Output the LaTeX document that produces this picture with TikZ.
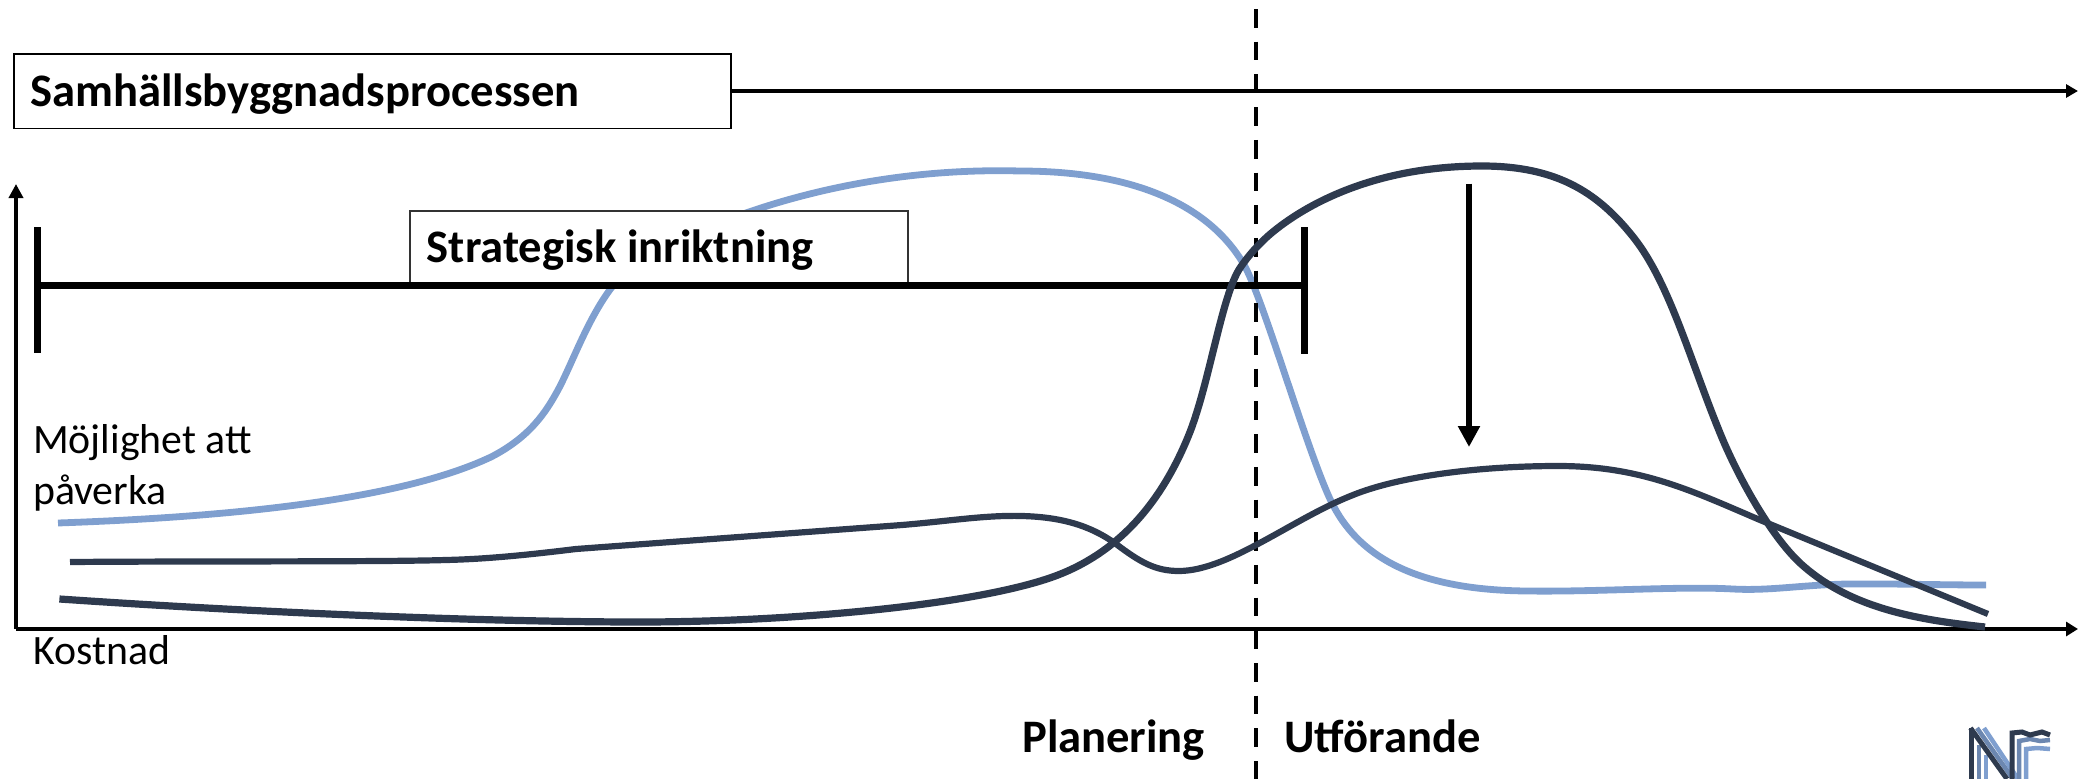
\documentclass[tikz,border=0pt]{standalone}
\usepackage{fontspec}
\setmainfont{Carlito}
\usetikzlibrary{arrows.meta}
\definecolor{softblue}{HTML}{7F9FCF}
\definecolor{deepnavy}{HTML}{2E3A4E}
\tikzset{
  x=1pt,y=-1pt,
  curveblue/.style={softblue,line width=6.8pt,line join=round},
  curvedark/.style={deepnavy,line width=7.2pt,line join=round},
  axisline/.style={black,line width=4.8pt},
  barline/.style={black,line width=7pt},
  titlebox/.style={draw=black,fill=white,line width=1.6pt,minimum width=717pt,minimum height=74.5pt,inner sep=0,anchor=north west},
  subbox/.style={draw=black!80,fill=white,line width=1.8pt,minimum width=498pt,minimum height=73pt,inner sep=0,anchor=north west},
  boldlabel/.style={font=\bfseries\fontsize{46.6}{46.6}\selectfont,anchor=base west,inner sep=0},
  plainlabel/.style={font=\fontsize{41.8}{41.8}\selectfont,anchor=base west,inner sep=0},
  logoA/.style={color=deepnavy,line width=5pt},
  logoB/.style={color=softblue!85!black,line width=4.5pt},
  logoC/.style={color=softblue,line width=4.5pt},
}
\begin{document}
\begin{tikzpicture}
\useasboundingbox (0,0) rectangle (2078,779);
% curve under the boxes
\draw[curveblue] (58,523) .. controls (230,517) and (400,500) .. (491,457)
 .. controls (530,437) and (546,412) .. (558,390)
 .. controls (572,364) and (588,318) .. (612,287)
 .. controls (632,255) and (800,165) .. (1020,171)
 .. controls (1125,171) and (1205,200) .. (1243,263)
 .. controls (1262,294) and (1305,445) .. (1330,499)
 .. controls (1352,546) and (1400,590) .. (1527,591)
 .. controls (1600,592) and (1680,586) .. (1733,589)
 .. controls (1770,591) and (1800,585) .. (1847,584)
 .. controls (1890,583.5) and (1940,585) .. (1986,585);
% boxes
\node[titlebox] (titlebox) at (13,53) {};
\node[subbox] (subbox) at (409,210) {};
% strategic bar
\coordinate (barL) at (37.6,285);
\coordinate (barR) at (1304,285);
\coordinate (barLt) at (37.6,227);
\coordinate (barLb) at (37.6,353);
\coordinate (barRt) at (1304,227);
\coordinate (barRb) at (1304,354);
\draw[barline] (barL) -- (barR);
\draw[barline] (barLt) -- (barLb);
\draw[barline] (barRt) -- (barRb);
% dashed divider
\coordinate (divT) at (1255.8,9);
\coordinate (divB) at (1255.8,779);
\draw[black,line width=4.4pt,dash pattern=on 18.7pt off 14pt] (divT) -- (divB);
% axes
\coordinate (origin) at (16,629);
\coordinate (yend) at (16,184);
\coordinate (xend) at (2078,629);
\coordinate (topend) at (2078,91);
\draw[axisline,-{Triangle[length=14pt,width=14pt]}] (origin) -- (yend);
\draw[axisline,-{Triangle[length=12pt,width=14pt]}] (origin) -- (xend);
\draw[axisline,-{Triangle[length=12pt,width=13pt]}] (titlebox.east |- topend) -- (topend);
% dark curves
\draw[curvedark] (59.4,599) .. controls (250,612) and (480,622) .. (640,622)
 .. controls (790,622) and (980,605) .. (1058,575)
 .. controls (1125,549) and (1165,495) .. (1190,432)
 .. controls (1210,380) and (1222,295) .. (1240,268)
 .. controls (1248,256) and (1258,245) .. (1268,236)
 .. controls (1300,208) and (1370,166) .. (1482,166)
 .. controls (1560,166) and (1600,195) .. (1634,238)
 .. controls (1670,284) and (1690,360) .. (1720,433)
 .. controls (1737,475) and (1770,535) .. (1800,563)
 .. controls (1850,609) and (1920,620) .. (1985,627);
\draw[curvedark,line width=6.2pt] (70,562) .. controls (200,561) and (380,562) .. (446,560)
 .. controls (490,559) and (535,554) .. (576,549)
 -- (902,525)
 .. controls (950,521) and (985,515) .. (1022,516)
 .. controls (1060,517) and (1090,525) .. (1116,544)
 .. controls (1140,562) and (1155,571) .. (1179,571)
 .. controls (1205,571) and (1235,556) .. (1256,545)
 .. controls (1290,527) and (1320,508) .. (1353,495)
 .. controls (1400,476) and (1480,466) .. (1558,466)
 .. controls (1640,466) and (1690,490) .. (1760,520)
 -- (1988,614);
% reduction arrow
\coordinate (dropT) at (1469,183.6);
\coordinate (dropB) at (1469,447);
\draw[black,line width=6pt,-{Triangle[length=21pt,width=21pt]}] (dropT) -- (dropB);
% labels
\node[boldlabel] (t1) at (30,106) {Samhällsbyggnadsprocessen};
\node[boldlabel] (t2) at (426.6,262.5) {Strategisk inriktning};
\node[plainlabel] (t3) at (33,453) {Möjlighet att};
\node[plainlabel] (t4) at (33,504) {påverka};
\node[plainlabel] (t5) at (33,664) {Kostnad};
\node[boldlabel] (t6) at (1022,752) {Planering};
\node[boldlabel] (t7) at (1284,752) {Utförande};
% logo
\begin{scope}
\clip (1960,720) rectangle (2060,779);
\draw[logoC] (1984,728) -- (2018,779);
\draw[logoC] (1986,755) -- (1986,779);
\draw[logoB] (1977,728) -- (2013,779);
\draw[logoB] (1979,745) -- (1979,779);
\draw[logoA] (1970.5,728) -- (2007,779);
\draw[logoA] (1971,728) -- (1971,779);
\draw[logoC] (2026,779) -- (2026,749) -- (2037,748) -- (2050,749);
\draw[logoB] (2019,779) -- (2019,741) -- (2030,739) -- (2040,741) -- (2050,740);
\draw[logoA] (2012,779) -- (2012,733) -- (2022,732) -- (2030,735) -- (2042,732) -- (2050,735);
\end{scope}
\end{tikzpicture}
\end{document}
